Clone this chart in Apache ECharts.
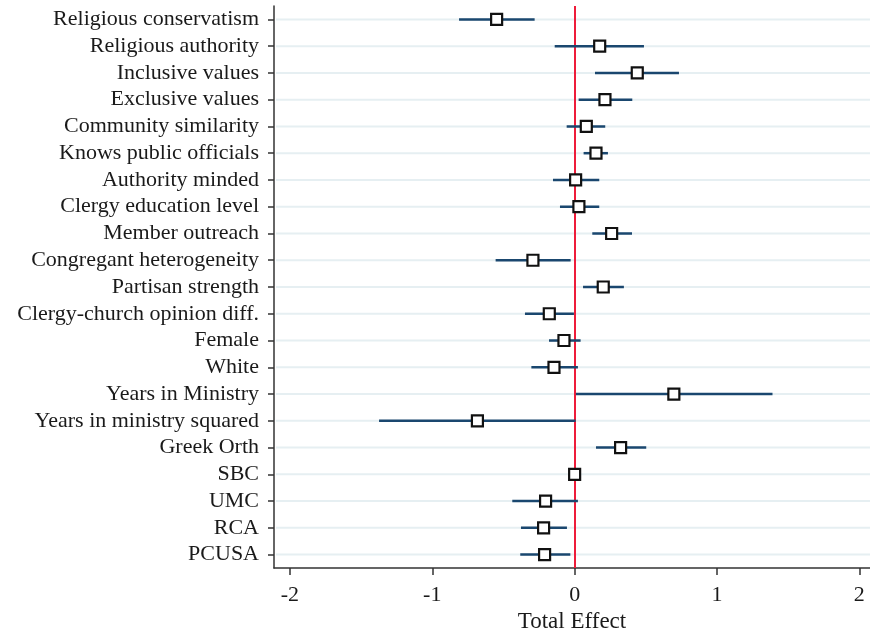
<!DOCTYPE html>
<html>
<head>
<meta charset="utf-8">
<script src="https://cdn.jsdelivr.net/npm/echarts@6/dist/echarts.min.js"></script>
<style>html,body{margin:0;padding:0;background:#fff;}#c{width:870px;height:633px;}</style>
</head>
<body>
<div id="c"></div>
<script>
const categories = ["Religious conservatism","Religious authority","Inclusive values","Exclusive values","Community similarity","Knows public officials","Authority minded","Clergy education level","Member outreach","Congregant heterogeneity","Partisan strength","Clergy-church opinion diff.","Female","White","Years in Ministry","Years in ministry squared","Greek Orth","SBC","UMC","RCA","PCUSA"];
const estimates = [-0.548,0.176,0.440,0.213,0.082,0.150,0.007,0.030,0.260,-0.293,0.201,-0.178,-0.075,-0.145,0.697,-0.683,0.323,0.0,-0.204,-0.218,-0.211];
const lower = [-0.812,-0.140,0.143,0.028,-0.056,0.063,-0.152,-0.103,0.124,-0.555,0.059,-0.349,-0.180,-0.304,0.009,-1.374,0.150,0.0,-0.438,-0.377,-0.382];
const upper = [-0.281,0.487,0.733,0.405,0.215,0.234,0.173,0.173,0.403,-0.028,0.346,-0.005,0.042,0.023,1.390,0.007,0.503,0.0,0.023,-0.054,-0.030];
const xTicks = [-2,-1,0,1,2];

const chart = echarts.init(document.getElementById('c'));
const font = '"Liberation Serif", "DejaVu Serif", serif';
const ciData = categories.map((c,i)=>[lower[i], i, upper[i]]);
const ptData = categories.map((c,i)=>[estimates[i], i]);
const gridData = categories.map((c,i)=>[0, i]);

chart.setOption({
  animation: false,
  grid: {left: 274, right: 0, top: 6, bottom: 65, containLabel: false, outerBoundsMode: 'none'},
  xAxis: {
    type: 'value', min: -2.112, max: 2.075,
    name: 'Total Effect', nameLocation: 'middle', nameGap: 40,
    nameTextStyle: {fontFamily: font, fontSize: 23, color: '#1a1a1a'},
    axisLine: {show: true, onZero: false, lineStyle: {color: '#333', width: 1.5}},
    axisTick: {show: true, length: 7, customValues: xTicks, lineStyle: {color: '#333', width: 1.5}},
    axisLabel: {customValues: xTicks, margin: 16, fontFamily: font, fontSize: 22, color: '#1a1a1a'},
    splitLine: {show: false}
  },
  yAxis: {
    type: 'category', data: categories, inverse: true, boundaryGap: true,
    axisLine: {show: true, onZero: false, lineStyle: {color: '#333', width: 1.5}},
    axisTick: {show: true, alignWithLabel: true, interval: 0, length: 6, lineStyle: {color: '#333', width: 1.5}},
    axisLabel: {interval: 0, margin: 15, fontFamily: font, fontSize: 22, color: '#1a1a1a'},
    splitLine: {show: false}
  },
  series: [
    {
      type: 'custom', data: gridData, silent: true, z: 1,
      encode: {x: 0, y: 1},
      renderItem: function(params, api){
        const y = api.coord([0, api.value(1)])[1];
        const cs = params.coordSys;
        return {type: 'line', shape: {x1: cs.x + 2, y1: y, x2: cs.x + cs.width, y2: y},
          style: {stroke: '#e6eff2', lineWidth: 2}};
      }
    },
    {
      type: 'custom', data: ciData, z: 3,
      encode: {x: 0, y: 1},
      renderItem: function(params, api){
        const p1 = api.coord([api.value(0), api.value(1)]);
        const p2 = api.coord([api.value(2), api.value(1)]);
        return {type: 'line', shape: {x1: p1[0], y1: p1[1], x2: p2[0], y2: p2[1]},
          style: {stroke: '#1a476f', lineWidth: 2.5}};
      }
    },
    {
      type: 'scatter', data: ptData, z: 5,
      symbol: 'rect', symbolSize: 11,
      itemStyle: {color: '#fff', borderColor: '#111', borderWidth: 2.2, opacity: 1},
      markLine: {
        silent: true, symbol: 'none', z: 2,
        label: {show: false},
        lineStyle: {color: '#ee1c3a', width: 2, type: 'solid'},
        data: [{xAxis: 0}]
      }
    }
  ]
});
</script>
</body>
</html>
